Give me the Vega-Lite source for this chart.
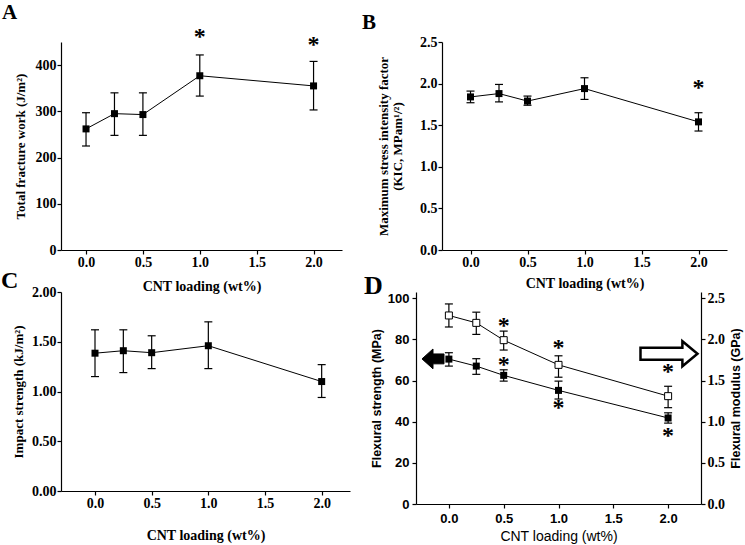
{
  "$schema": "https://vega.github.io/schema/vega-lite/v6.json",
  "background": "white",
  "padding": {"left": 1, "top": 2, "right": 2, "bottom": 2},
  "spacing": -24,
  "align": "none",
  "datasets": {
    "main": [
      {"panel": "A", "series": "s", "x": 0, "y": 262, "lo": 225, "hi": 297},
      {"panel": "A", "series": "s", "x": 0.25, "y": 295, "lo": 248, "hi": 340},
      {"panel": "A", "series": "s", "x": 0.5, "y": 293, "lo": 248, "hi": 340},
      {"panel": "A", "series": "s", "x": 1, "y": 377, "lo": 333, "hi": 422},
      {"panel": "A", "series": "s", "x": 2, "y": 355, "lo": 303, "hi": 408},
      {"panel": "B", "series": "s", "x": 0, "y": 1.84, "lo": 1.77, "hi": 1.91},
      {"panel": "B", "series": "s", "x": 0.25, "y": 1.88, "lo": 1.78, "hi": 1.99},
      {"panel": "B", "series": "s", "x": 0.5, "y": 1.79, "lo": 1.74, "hi": 1.85},
      {"panel": "B", "series": "s", "x": 1, "y": 1.94, "lo": 1.81, "hi": 2.07},
      {"panel": "B", "series": "s", "x": 2, "y": 1.54, "lo": 1.43, "hi": 1.65},
      {"panel": "C", "series": "s", "x": 0, "y": 1.385, "lo": 1.15, "hi": 1.62},
      {"panel": "C", "series": "s", "x": 0.25, "y": 1.41, "lo": 1.19, "hi": 1.62},
      {"panel": "C", "series": "s", "x": 0.5, "y": 1.39, "lo": 1.23, "hi": 1.56},
      {"panel": "C", "series": "s", "x": 1, "y": 1.46, "lo": 1.23, "hi": 1.7},
      {"panel": "C", "series": "s", "x": 2, "y": 1.1, "lo": 0.94, "hi": 1.27},
      {"panel": "D", "series": "strength", "x": 0, "y": 70.4, "lo": 67, "hi": 73.5},
      {"panel": "D", "series": "strength", "x": 0.25, "y": 67, "lo": 63, "hi": 70.6},
      {"panel": "D", "series": "strength", "x": 0.5, "y": 62.5, "lo": 59.7, "hi": 65.2},
      {"panel": "D", "series": "strength", "x": 1, "y": 55.2, "lo": 51, "hi": 59.7},
      {"panel": "D", "series": "strength", "x": 2, "y": 41.8, "lo": 39.3, "hi": 44.3},
      {"panel": "D", "series": "modulus", "x": 0, "y": 2.29, "lo": 2.15, "hi": 2.43},
      {"panel": "D", "series": "modulus", "x": 0.25, "y": 2.2, "lo": 2.06, "hi": 2.33},
      {"panel": "D", "series": "modulus", "x": 0.5, "y": 1.99, "lo": 1.87, "hi": 2.1},
      {"panel": "D", "series": "modulus", "x": 1, "y": 1.69, "lo": 1.54, "hi": 1.8},
      {"panel": "D", "series": "modulus", "x": 2, "y": 1.31, "lo": 1.17, "hi": 1.43}
    ],
    "stars": [
      {"panel": "A", "x": 1, "y": 465},
      {"panel": "A", "x": 2, "y": 448},
      {"panel": "B", "x": 2, "y": 1.97},
      {"panel": "D", "x": 0.5, "y": 87.4},
      {"panel": "D", "x": 0.5, "y": 68.4},
      {"panel": "D", "x": 1, "y": 76.7},
      {"panel": "D", "x": 1, "y": 47.6},
      {"panel": "D", "x": 2, "y": 65},
      {"panel": "D", "x": 2, "y": 34}
    ],
    "arrows": [
      {"side": "left", "x": -0.145, "y": 70.5},
      {"side": "right", "x": 2.008, "y": 73}
    ]
  },
  "vconcat": [
    {
      "bounds": "flush",
      "spacing": 100,
      "hconcat": [
        {
          "width": 281, "height": 208,
          "title": {"text": "A", "dx": -59, "offset": 2, "fontSize": 21},
          "layer": [
            {
              "data": {"name": "main"}, "transform": [{"filter": "datum.panel == 'A'"}],
              "mark": {"type": "line", "color": "black", "strokeWidth": 1},
              "encoding": {
                "x": {"field": "x", "type": "quantitative", "scale": {"domain": [-0.22, 2.25], "nice": false, "zero": false}, "axis": {"values": [0, 0.25, 0.5, 0.75, 1, 1.25, 1.5, 1.75, 2, 2.25], "format": ".1f", "labelExpr": "datum.value % 0.5 == 0 ? datum.label : ''", "tickSize": {"condition": {"test": "datum.value % 0.5 != 0", "value": 2.5}, "value": 4}, "title": "CNT loading (wt%)", "titlePadding": 10}},
                "y": {"field": "y", "type": "quantitative", "scale": {"domain": [0, 450], "nice": false}, "axis": {"values": [0, 50, 100, 150, 200, 250, 300, 350, 400, 450], "labelExpr": "datum.value % 100 == 0 ? datum.label : ''", "tickSize": {"condition": {"test": "datum.value % 100 != 0", "value": 2.5}, "value": 4}, "title": "Total fracture work (J/m²)", "titlePadding": 8}}
              }
            },
            {
              "data": {"name": "main"}, "transform": [{"filter": "datum.panel == 'A'"}],
              "mark": {"type": "rule", "color": "black", "strokeWidth": 1.2},
              "encoding": {"x": {"field": "x", "type": "quantitative"}, "y": {"field": "lo", "type": "quantitative"}, "y2": {"field": "hi"}}
            },
            {
              "data": {"name": "main"}, "transform": [{"filter": "datum.panel == 'A'"}],
              "mark": {"type": "point", "shape": "stroke", "size": 64, "color": "black", "strokeWidth": 1.2, "opacity": 1},
              "encoding": {"x": {"field": "x", "type": "quantitative"}, "y": {"field": "lo", "type": "quantitative"}}
            },
            {
              "data": {"name": "main"}, "transform": [{"filter": "datum.panel == 'A'"}],
              "mark": {"type": "point", "shape": "stroke", "size": 64, "color": "black", "strokeWidth": 1.2, "opacity": 1},
              "encoding": {"x": {"field": "x", "type": "quantitative"}, "y": {"field": "hi", "type": "quantitative"}}
            },
            {
              "data": {"name": "main"}, "transform": [{"filter": "datum.panel == 'A'"}],
              "mark": {"type": "point", "shape": "square", "filled": true, "color": "black", "size": 49, "opacity": 1},
              "encoding": {"x": {"field": "x", "type": "quantitative"}, "y": {"field": "y", "type": "quantitative"}}
            },
            {
              "data": {"name": "stars"}, "transform": [{"filter": "datum.panel == 'A'"}],
              "mark": {"type": "text", "text": "*", "font": "Liberation Serif", "fontWeight": "bold", "fontSize": 24, "baseline": "middle", "dy": 2, "color": "black"},
              "encoding": {"x": {"field": "x", "type": "quantitative"}, "y": {"field": "y", "type": "quantitative"}}
            }
          ]
        },
        {
          "width": 285, "height": 208,
          "title": {"text": "B", "dx": -80, "offset": 2, "fontSize": 21},
          "layer": [
            {
              "data": {"name": "main"}, "transform": [{"filter": "datum.panel == 'B'"}],
              "mark": {"type": "line", "color": "black", "strokeWidth": 1},
              "encoding": {
                "x": {"field": "x", "type": "quantitative", "scale": {"domain": [-0.25, 2.25], "nice": false, "zero": false}, "axis": {"values": [0, 0.25, 0.5, 0.75, 1, 1.25, 1.5, 1.75, 2, 2.25], "format": ".1f", "labelExpr": "datum.value % 0.5 == 0 ? datum.label : ''", "tickSize": {"condition": {"test": "datum.value % 0.5 != 0", "value": 2.5}, "value": 4}, "title": "CNT loading (wt%)", "titlePadding": 7}},
                "y": {"field": "y", "type": "quantitative", "scale": {"domain": [0, 2.5], "nice": false}, "axis": {"values": [0, 0.25, 0.5, 0.75, 1, 1.25, 1.5, 1.75, 2, 2.25, 2.5], "format": ".1f", "labelExpr": "datum.value % 0.5 == 0 ? datum.label : ''", "tickSize": {"condition": {"test": "datum.value % 0.5 != 0", "value": 2.5}, "value": 4}, "title": ["Maximum stress intensity factor", "(KIC, MPam¹/²)"], "titlePadding": 15, "titleLineHeight": 14}}
              }
            },
            {
              "data": {"name": "main"}, "transform": [{"filter": "datum.panel == 'B'"}],
              "mark": {"type": "rule", "color": "black", "strokeWidth": 1.2},
              "encoding": {"x": {"field": "x", "type": "quantitative"}, "y": {"field": "lo", "type": "quantitative"}, "y2": {"field": "hi"}}
            },
            {
              "data": {"name": "main"}, "transform": [{"filter": "datum.panel == 'B'"}],
              "mark": {"type": "point", "shape": "stroke", "size": 64, "color": "black", "strokeWidth": 1.2, "opacity": 1},
              "encoding": {"x": {"field": "x", "type": "quantitative"}, "y": {"field": "lo", "type": "quantitative"}}
            },
            {
              "data": {"name": "main"}, "transform": [{"filter": "datum.panel == 'B'"}],
              "mark": {"type": "point", "shape": "stroke", "size": 64, "color": "black", "strokeWidth": 1.2, "opacity": 1},
              "encoding": {"x": {"field": "x", "type": "quantitative"}, "y": {"field": "hi", "type": "quantitative"}}
            },
            {
              "data": {"name": "main"}, "transform": [{"filter": "datum.panel == 'B'"}],
              "mark": {"type": "point", "shape": "square", "filled": true, "color": "black", "size": 49, "opacity": 1},
              "encoding": {"x": {"field": "x", "type": "quantitative"}, "y": {"field": "y", "type": "quantitative"}}
            },
            {
              "data": {"name": "stars"}, "transform": [{"filter": "datum.panel == 'B'"}],
              "mark": {"type": "text", "text": "*", "font": "Liberation Serif", "fontWeight": "bold", "fontSize": 24, "baseline": "middle", "dy": 2, "color": "black"},
              "encoding": {"x": {"field": "x", "type": "quantitative"}, "y": {"field": "y", "type": "quantitative"}}
            }
          ]
        }
      ]
    },
    {
      "bounds": "flush",
      "spacing": 66,
      "hconcat": [
        {
          "width": 289, "height": 199,
          "title": {"text": "C", "dx": -60, "offset": 0, "dy": 8, "fontSize": 24},
          "layer": [
            {
              "data": {"name": "main"}, "transform": [{"filter": "datum.panel == 'C'"}],
              "mark": {"type": "line", "color": "black", "strokeWidth": 1},
              "encoding": {
                "x": {"field": "x", "type": "quantitative", "scale": {"domain": [-0.3, 2.25], "nice": false, "zero": false}, "axis": {"values": [0, 0.25, 0.5, 0.75, 1, 1.25, 1.5, 1.75, 2, 2.25], "format": ".1f", "labelExpr": "datum.value % 0.5 == 0 ? datum.label : ''", "tickSize": {"condition": {"test": "datum.value % 0.5 != 0", "value": 2.5}, "value": 4}, "title": "CNT loading (wt%)", "titlePadding": 18}},
                "y": {"field": "y", "type": "quantitative", "scale": {"domain": [0, 2], "nice": false}, "axis": {"values": [0, 0.125, 0.25, 0.375, 0.5, 0.625, 0.75, 0.875, 1, 1.125, 1.25, 1.375, 1.5, 1.625, 1.75, 1.875, 2], "format": ".2f", "labelExpr": "datum.value % 0.25 == 0 ? datum.label : ''", "tickSize": {"condition": {"test": "datum.value % 0.25 != 0", "value": 2.5}, "value": 4}, "title": "Impact strength (kJ/m²)", "titlePadding": 6}}
              }
            },
            {
              "data": {"name": "main"}, "transform": [{"filter": "datum.panel == 'C'"}],
              "mark": {"type": "rule", "color": "black", "strokeWidth": 1.2},
              "encoding": {"x": {"field": "x", "type": "quantitative"}, "y": {"field": "lo", "type": "quantitative"}, "y2": {"field": "hi"}}
            },
            {
              "data": {"name": "main"}, "transform": [{"filter": "datum.panel == 'C'"}],
              "mark": {"type": "point", "shape": "stroke", "size": 64, "color": "black", "strokeWidth": 1.2, "opacity": 1},
              "encoding": {"x": {"field": "x", "type": "quantitative"}, "y": {"field": "lo", "type": "quantitative"}}
            },
            {
              "data": {"name": "main"}, "transform": [{"filter": "datum.panel == 'C'"}],
              "mark": {"type": "point", "shape": "stroke", "size": 64, "color": "black", "strokeWidth": 1.2, "opacity": 1},
              "encoding": {"x": {"field": "x", "type": "quantitative"}, "y": {"field": "hi", "type": "quantitative"}}
            },
            {
              "data": {"name": "main"}, "transform": [{"filter": "datum.panel == 'C'"}],
              "mark": {"type": "point", "shape": "square", "filled": true, "color": "black", "size": 49, "opacity": 1},
              "encoding": {"x": {"field": "x", "type": "quantitative"}, "y": {"field": "y", "type": "quantitative"}}
            }
          ]
        },
        {
          "width": 285, "height": 212,
          "title": {"text": "D", "dx": -52, "offset": 0, "dy": 8, "fontSize": 26},
          "layer": [
            {
              "layer": [
                {
                  "data": {"name": "main"}, "transform": [{"filter": "datum.series == 'strength'"}],
                  "mark": {"type": "line", "color": "black", "strokeWidth": 1},
                  "encoding": {
                    "x": {"field": "x", "type": "quantitative", "scale": {"domain": [-0.3, 2.3], "nice": false, "zero": false}, "axis": {"values": [0, 0.25, 0.5, 0.75, 1, 1.25, 1.5, 1.75, 2, 2.25], "format": ".1f", "labelExpr": "datum.value % 0.5 == 0 ? datum.label : ''", "tickSize": {"condition": {"test": "datum.value % 0.5 != 0", "value": 2.5}, "value": 4}, "title": "CNT loading (wt%)", "labelFont": "Liberation Sans", "titleFont": "Liberation Sans", "titleFontWeight": "normal", "labelFontWeight": "bold", "labelFontSize": 13, "titleFontSize": 14, "labelPadding": 4, "titlePadding": 4}},
                    "y": {"field": "y", "type": "quantitative", "scale": {"domain": [0, 103], "nice": false}, "axis": {"values": [0, 10, 20, 30, 40, 50, 60, 70, 80, 90, 100], "labelExpr": "datum.value % 20 == 0 ? datum.label : ''", "tickSize": {"condition": {"test": "datum.value % 20 != 0", "value": 2.5}, "value": 4}, "title": "Flexural strength (MPa)", "labelFont": "Liberation Sans", "titleFont": "Liberation Sans", "labelFontWeight": "bold", "labelFontSize": 13, "titleFontSize": 12.5, "labelPadding": 3}}
                  }
                },
                {
                  "data": {"name": "main"}, "transform": [{"filter": "datum.series == 'strength'"}],
                  "mark": {"type": "rule", "color": "black", "strokeWidth": 1.2},
                  "encoding": {"x": {"field": "x", "type": "quantitative"}, "y": {"field": "lo", "type": "quantitative"}, "y2": {"field": "hi"}}
                },
                {
                  "data": {"name": "main"}, "transform": [{"filter": "datum.series == 'strength'"}],
                  "mark": {"type": "point", "shape": "stroke", "size": 64, "color": "black", "strokeWidth": 1.2, "opacity": 1},
                  "encoding": {"x": {"field": "x", "type": "quantitative"}, "y": {"field": "lo", "type": "quantitative"}}
                },
                {
                  "data": {"name": "main"}, "transform": [{"filter": "datum.series == 'strength'"}],
                  "mark": {"type": "point", "shape": "stroke", "size": 64, "color": "black", "strokeWidth": 1.2, "opacity": 1},
                  "encoding": {"x": {"field": "x", "type": "quantitative"}, "y": {"field": "hi", "type": "quantitative"}}
                },
                {
                  "data": {"name": "main"}, "transform": [{"filter": "datum.series == 'strength'"}],
                  "mark": {"type": "point", "shape": "square", "filled": true, "color": "black", "size": 49, "opacity": 1},
                  "encoding": {"x": {"field": "x", "type": "quantitative"}, "y": {"field": "y", "type": "quantitative"}}
                },
                {
                  "data": {"name": "stars"}, "transform": [{"filter": "datum.panel == 'D'"}],
                  "mark": {"type": "text", "text": "*", "font": "Liberation Serif", "fontWeight": "bold", "fontSize": 24, "baseline": "middle", "dy": 2, "color": "black"},
                  "encoding": {"x": {"field": "x", "type": "quantitative"}, "y": {"field": "y", "type": "quantitative"}}
                },
                {
                  "data": {"name": "arrows"}, "transform": [{"filter": "datum.side == 'left'"}],
                  "mark": {"type": "point", "shape": "M1,-0.45 L0,-0.45 L0,-0.9 L-1,0 L0,0.9 L0,0.45 L1,0.45 Z", "size": 484, "filled": true, "fill": "black", "stroke": "black", "strokeWidth": 1, "opacity": 1},
                  "encoding": {"x": {"field": "x", "type": "quantitative"}, "y": {"field": "y", "type": "quantitative"}}
                },
                {
                  "data": {"name": "arrows"}, "transform": [{"filter": "datum.side == 'right'"}],
                  "mark": {"type": "point", "shape": "M-1,-0.21 L0.47,-0.21 L0.47,-0.44 L1,0 L0.47,0.44 L0.47,0.21 L-1,0.21 Z", "size": 3249, "filled": true, "fill": "white", "stroke": "black", "strokeWidth": 2.5, "opacity": 1},
                  "encoding": {"x": {"field": "x", "type": "quantitative"}, "y": {"field": "y", "type": "quantitative"}}
                }
              ]
            },
            {
              "layer": [
                {
                  "data": {"name": "main"}, "transform": [{"filter": "datum.series == 'modulus'"}],
                  "mark": {"type": "line", "color": "black", "strokeWidth": 1},
                  "encoding": {
                    "x": {"field": "x", "type": "quantitative"},
                    "y": {"field": "y", "type": "quantitative", "scale": {"domain": [0, 2.575], "nice": false}, "axis": {"orient": "right", "values": [0, 0.25, 0.5, 0.75, 1, 1.25, 1.5, 1.75, 2, 2.25, 2.5], "format": ".1f", "labelExpr": "datum.value % 0.5 == 0 ? datum.label : ''", "tickSize": {"condition": {"test": "datum.value % 0.5 != 0", "value": 2.5}, "value": 4}, "title": "Flexural modulus (GPa)", "titleFont": "Liberation Sans", "titleFontSize": 12.5, "titleAngle": 270, "titleBaseline": "top", "titlePadding": 5, "labelPadding": 2}}
                  }
                },
                {
                  "data": {"name": "main"}, "transform": [{"filter": "datum.series == 'modulus'"}],
                  "mark": {"type": "rule", "color": "black", "strokeWidth": 1.2},
                  "encoding": {"x": {"field": "x", "type": "quantitative"}, "y": {"field": "lo", "type": "quantitative"}, "y2": {"field": "hi"}}
                },
                {
                  "data": {"name": "main"}, "transform": [{"filter": "datum.series == 'modulus'"}],
                  "mark": {"type": "point", "shape": "stroke", "size": 64, "color": "black", "strokeWidth": 1.2, "opacity": 1},
                  "encoding": {"x": {"field": "x", "type": "quantitative"}, "y": {"field": "lo", "type": "quantitative"}}
                },
                {
                  "data": {"name": "main"}, "transform": [{"filter": "datum.series == 'modulus'"}],
                  "mark": {"type": "point", "shape": "stroke", "size": 64, "color": "black", "strokeWidth": 1.2, "opacity": 1},
                  "encoding": {"x": {"field": "x", "type": "quantitative"}, "y": {"field": "hi", "type": "quantitative"}}
                },
                {
                  "data": {"name": "main"}, "transform": [{"filter": "datum.series == 'modulus'"}],
                  "mark": {"type": "point", "shape": "square", "filled": true, "fill": "white", "stroke": "black", "strokeWidth": 1, "size": 49, "opacity": 1},
                  "encoding": {"x": {"field": "x", "type": "quantitative"}, "y": {"field": "y", "type": "quantitative"}}
                }
              ]
            }
          ],
          "resolve": {"scale": {"y": "independent"}}
        }
      ]
    }
  ],
  "config": {
    "view": {"stroke": null},
    "font": "Liberation Serif",
    "title": {"font": "Liberation Serif", "fontWeight": "bold", "fontSize": 21, "anchor": "start", "color": "black", "frame": "group", "baseline": "alphabetic"},
    "axis": {
      "grid": false,
      "labelOverlap": false,
      "labelFlush": false,
      "domainColor": "black", "domainWidth": 1.2,
      "tickColor": "black", "tickSize": 4, "tickWidth": 1.2,
      "labelColor": "black", "labelFont": "Liberation Serif", "labelFontWeight": "bold", "labelFontSize": 14,
      "titleColor": "black", "titleFont": "Liberation Serif", "titleFontWeight": "bold", "titleFontSize": 13,
      "labelPadding": 1, "titlePadding": 4
    },
    "axisX": {"titleFontSize": 14, "titlePadding": 6}
  }
}
